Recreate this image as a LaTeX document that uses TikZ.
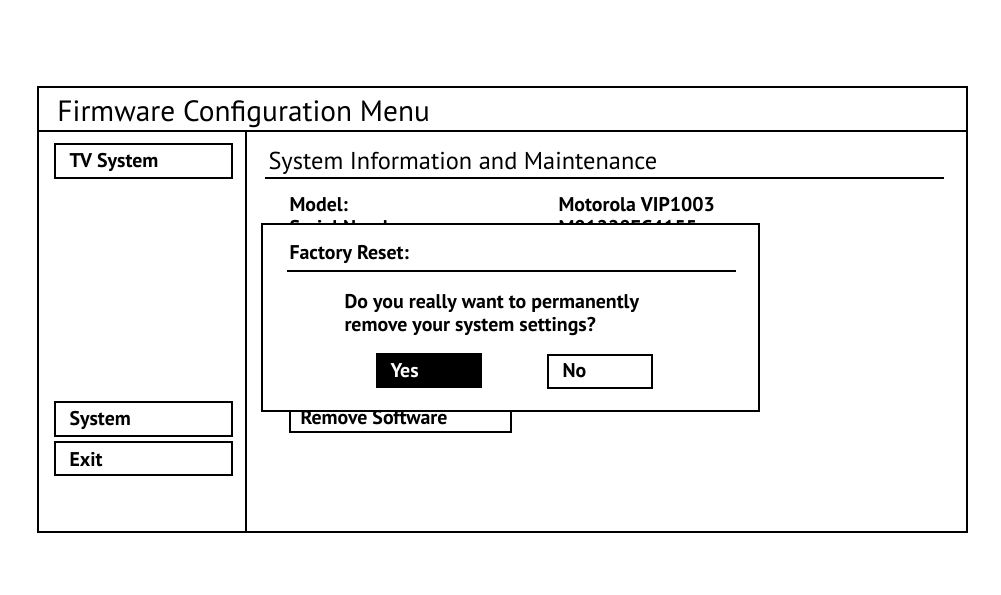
\documentclass[tikz,border=0pt]{standalone}
\usepackage{fontspec}
\setmainfont{PT Sans}
\tikzset{every picture/.style={line width=0.75pt}}
\tikzset{
  frameline/.style={line width=1.5pt},
  menubox/.style={draw, line width=1.7pt},
  txt/.style={anchor=base west, inner sep=0pt, font=\bfseries\fontsize{14.9}{17}\selectfont},
}

\begin{document}
\begin{tikzpicture}[x=0.75pt,y=0.75pt,yscale=-1,xscale=1]
\useasboundingbox (0,0) rectangle (1001,595);

%Shape: Rectangle [id:outerframe] 
\draw [frameline] (38,87) rectangle (967,532) ;
%Straight Lines [id:titlebar] 
\draw [frameline] (38,131) -- (967,131) ;
%Straight Lines [id:divider] 
\draw [frameline] (246,131) -- (246,532) ;

%Shape: Rectangle [id:tvbox] 
\draw [menubox] (55,144) rectangle (232,178) ;
%Shape: Rectangle [id:sysbox] 
\draw [menubox] (55,402) rectangle (232,436) ;
%Shape: Rectangle [id:exitbox] 
\draw [menubox] (55,442) rectangle (232,475) ;
%Straight Lines [id:headline] 
\draw [line width=1.6pt] (265,178) -- (944,178) ;
%Shape: Rectangle [id:removebox] 
\draw [menubox] (290,400) rectangle (511,432) ;

% Text Node
\node (title) [txt, font=\fontsize{22}{26}\selectfont] at (57,122) {Firmware Configuration Menu};
% Text Node
\node (tvsystem) [txt] at (69,168) {TV System};
% Text Node
\node (system) [txt] at (69,426) {System};
% Text Node
\node (exit) [txt] at (69,467) {Exit};
% Text Node
\node (heading) [txt, font=\fontsize{18.3}{21}\selectfont] at (268,170) {System Information and Maintenance};
% Text Node
\node (model) [txt] at (289,212) {Model:};
% Text Node
\node (modelval) [txt] at (558,212) {Motorola VIP1003};
% Text Node
\node (serial) [txt] at (289,235) {Serial Number:};
% Text Node
\node (serialval) [txt] at (558,235) {M01228EC4155};
% Text Node
\node (remove) [txt] at (300,425) {Remove Software};

%Shape: Rectangle [id:dialog] 
\draw [line width=1.9pt, fill=white] (262,224) rectangle (759,411) ;
%Straight Lines [id:dialogline] 
\draw [line width=1.6pt] (287,271) -- (736,271) ;
%Shape: Rectangle [id:yesbox] 
\draw [fill=black] (376,354) rectangle (481,388) ;
%Shape: Rectangle [id:nobox] 
\draw [menubox, line width=1.3pt] (548,355) rectangle (652,388) ;

% Text Node
\node (reset) [txt] at (289,260) {Factory Reset:};
% Text Node
\node (question) [txt] at (344,309) {Do you really want to permanently};
% Text Node
\node (question2) [txt] at (344,332) {remove your system settings?};
% Text Node
\node (yes) [txt, text=white] at (390,378) {Yes};
% Text Node
\node (no) [txt] at (562,378) {No};

\end{tikzpicture}
\end{document}
